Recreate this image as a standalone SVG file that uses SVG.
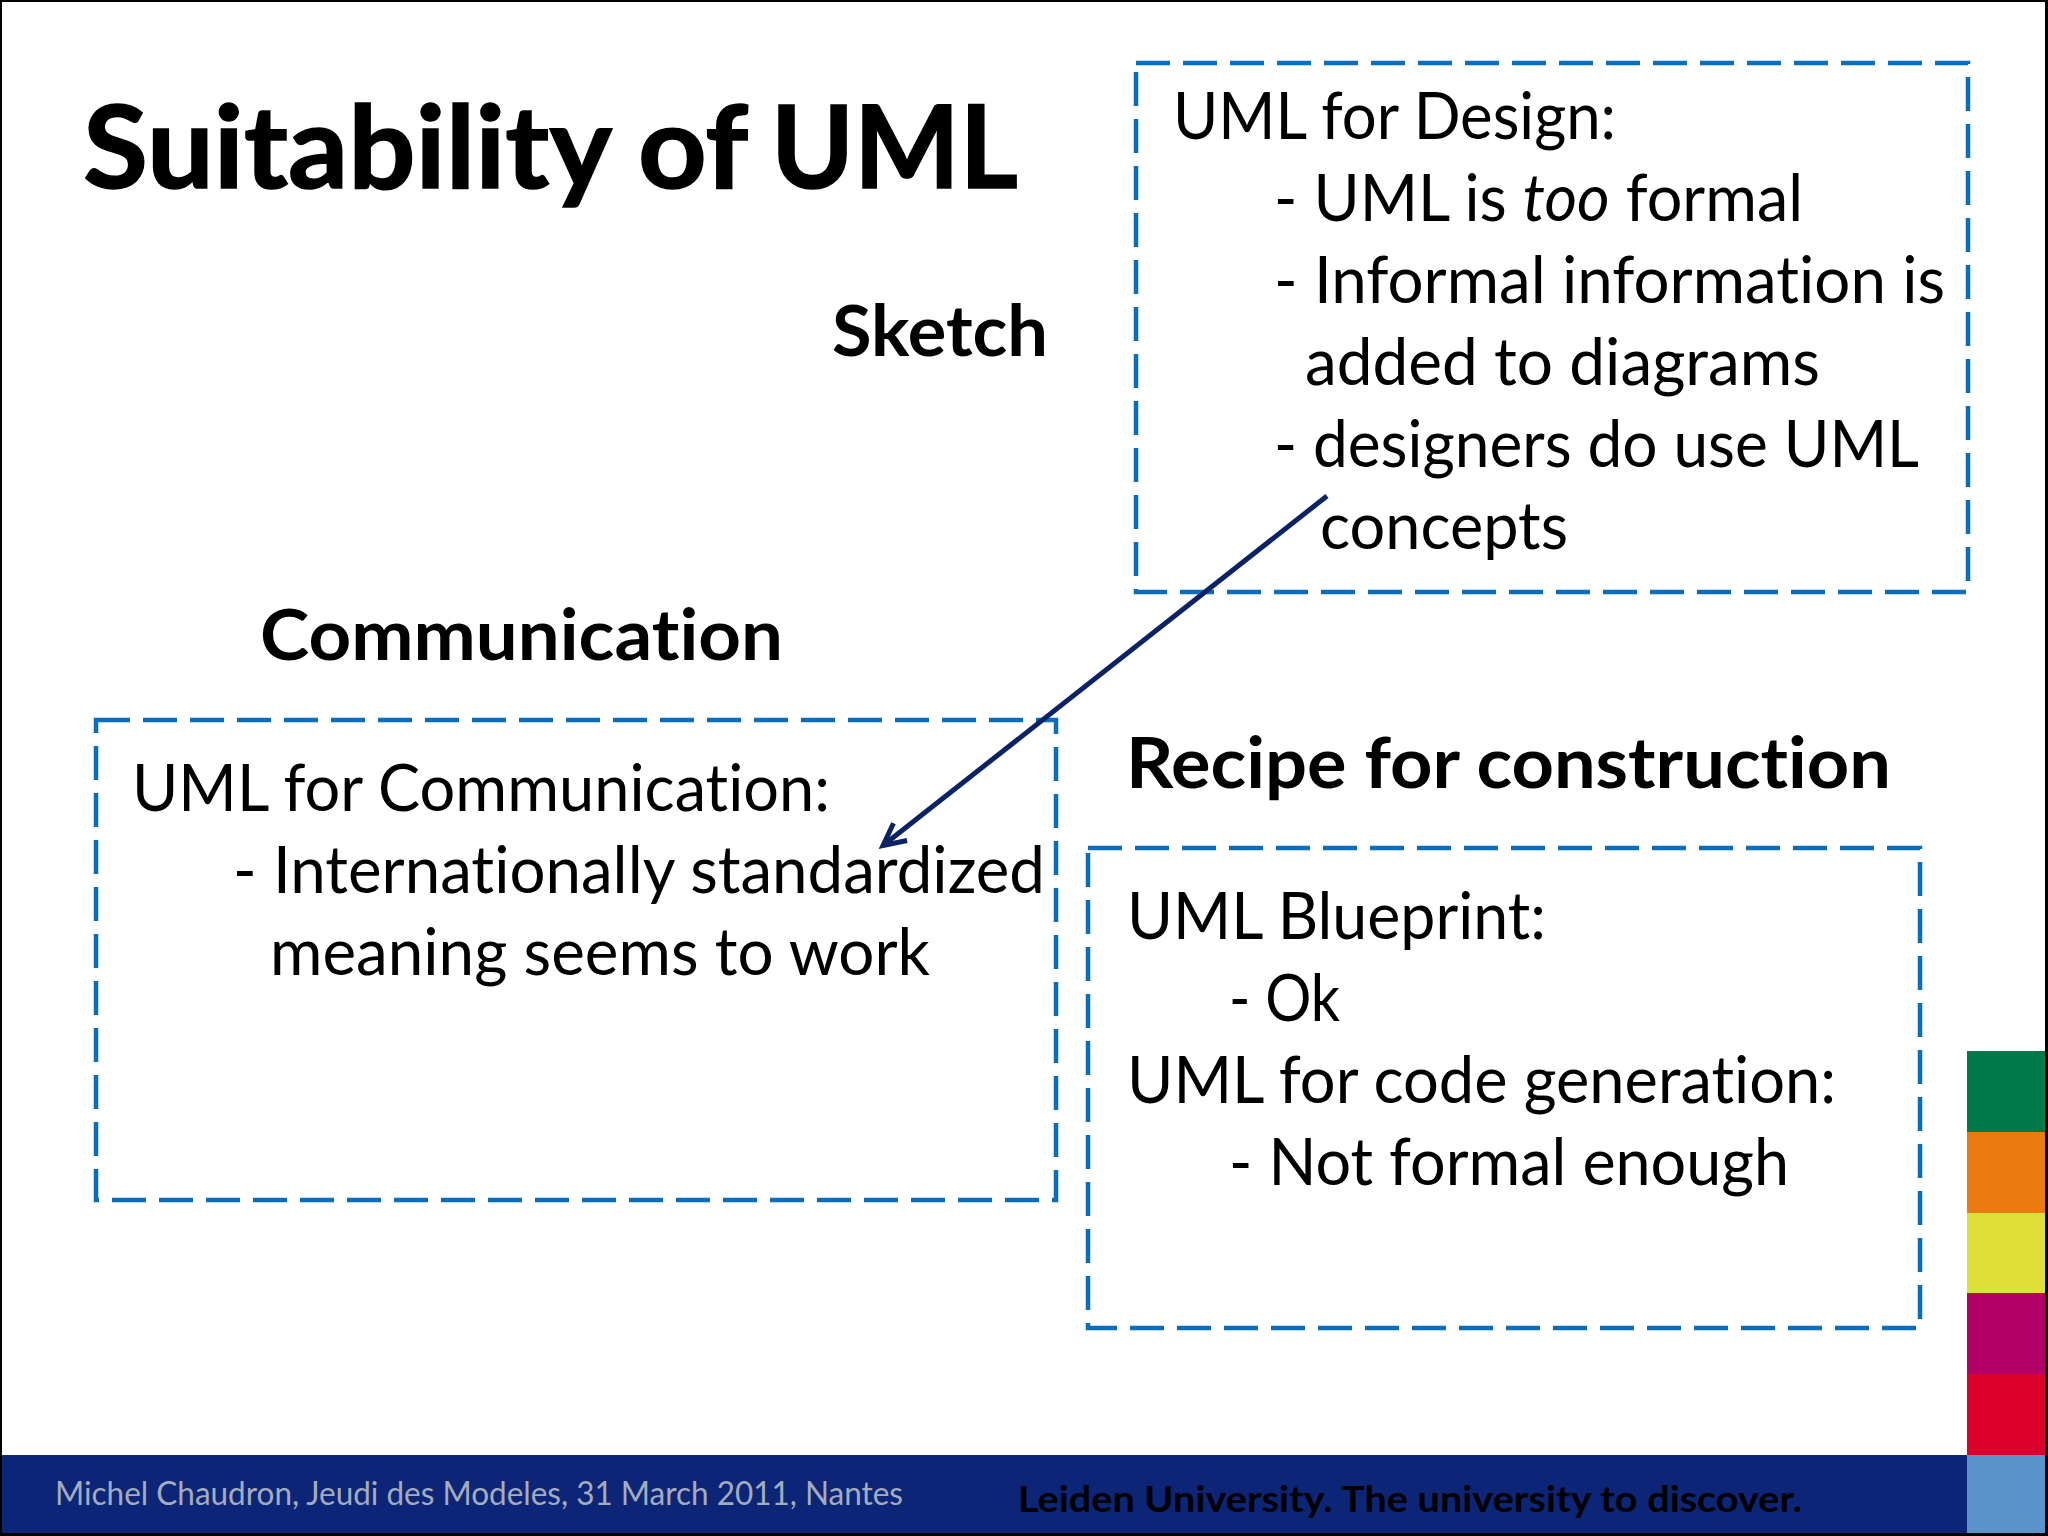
<svg xmlns="http://www.w3.org/2000/svg" width="2048" height="1536" viewBox="0 0 2048 1536">
<defs>
<style>
text{font-family:"Lato","Carlito","Open Sans",sans-serif;fill:#000;font-variant-ligatures:none;}
.b{font-size:65px;}
.h{font-size:70px;font-weight:700;}
.box{fill:none;stroke:#0a6ebd;stroke-width:4.5;stroke-dasharray:34 13;}
</style>
<marker id="arrow" markerUnits="userSpaceOnUse" markerWidth="40" markerHeight="40" refX="25" refY="15" orient="auto">
<path d="M3 4 L25 15 L3 26" fill="none" stroke="#0b2265" stroke-width="5"/>
</marker>
</defs>
<rect x="0" y="0" width="2048" height="1536" fill="#000"/>
<rect x="2" y="2" width="2043" height="1531" fill="#fff"/>
<g id="footer">
<rect x="2" y="1455" width="1965" height="78" fill="#0c2577"/>
<rect x="1967" y="1051" width="78" height="81" fill="#007a4b"/>
<rect x="1967" y="1132" width="78" height="81" fill="#ea7b10"/>
<rect x="1967" y="1213" width="78" height="80" fill="#dfdf38"/>
<rect x="1967" y="1293" width="78" height="81" fill="#b30066"/>
<rect x="1967" y="1374" width="78" height="81" fill="#dc002d"/>
<rect x="1967" y="1455" width="78" height="78" fill="#5a93c9"/>
<text x="55" y="1505" font-size="32" style="fill:#a3acbd" textLength="848" lengthAdjust="spacingAndGlyphs">Michel Chaudron, Jeudi des Modeles, 31 March 2011, Nantes</text>
<text x="1018" y="1512" font-size="37" font-weight="700" textLength="784" lengthAdjust="spacingAndGlyphs">Leiden University. The university to discover.</text>
</g>
<g id="title"><text y="188" font-size="114" font-weight="700" stroke="#000" stroke-width="1.5"><tspan x="83" textLength="526" lengthAdjust="spacingAndGlyphs">Suitability</tspan> <tspan x="638" textLength="108" lengthAdjust="spacingAndGlyphs">of</tspan> <tspan x="771" textLength="247" lengthAdjust="spacingAndGlyphs">UML</tspan></text></g>
<g id="label-sketch"><text class="h" x="832" y="356" textLength="216" lengthAdjust="spacingAndGlyphs">Sketch</text></g>
<g id="label-communication"><text class="h" x="260" y="660" textLength="523" lengthAdjust="spacingAndGlyphs">Communication</text></g>
<g id="label-recipe"><text class="h" x="1126" y="788" textLength="765" lengthAdjust="spacingAndGlyphs">Recipe for construction</text></g>
<g id="box-design">
<rect class="box" x="1136" y="63" width="832" height="529"/>
<text class="b" x="1173" y="139" textLength="443" lengthAdjust="spacingAndGlyphs">UML for Design:</text>
<text class="b" x="1274" y="221" textLength="529" lengthAdjust="spacingAndGlyphs">- UML is <tspan font-style="italic">too</tspan> formal</text>
<text class="b" x="1274" y="303" textLength="671" lengthAdjust="spacingAndGlyphs">- Informal information is</text>
<text class="b" x="1305" y="385" textLength="515" lengthAdjust="spacingAndGlyphs">added to diagrams</text>
<text class="b" x="1274" y="467" textLength="645" lengthAdjust="spacingAndGlyphs">- designers do use UML</text>
<text class="b" x="1320" y="549" textLength="248" lengthAdjust="spacingAndGlyphs">concepts</text>
</g>
<g id="box-communication">
<rect class="box" x="96" y="720" width="960" height="480"/>
<text class="b" x="132" y="811" textLength="698" lengthAdjust="spacingAndGlyphs">UML for Communication:</text>
<text class="b" x="233" y="893" textLength="812" lengthAdjust="spacingAndGlyphs">- Internationally standardized</text>
<text class="b" x="270" y="975" textLength="660" lengthAdjust="spacingAndGlyphs">meaning seems to work</text>
</g>
<g id="box-recipe">
<rect class="box" x="1088" y="848" width="832" height="480"/>
<text class="b" x="1127" y="939" textLength="419" lengthAdjust="spacingAndGlyphs">UML Blueprint:</text>
<text class="b" x="1229" y="1021" textLength="111" lengthAdjust="spacingAndGlyphs">- Ok</text>
<text class="b" x="1127" y="1103" textLength="709" lengthAdjust="spacingAndGlyphs">UML for code generation:</text>
<text class="b" x="1229" y="1185" textLength="560" lengthAdjust="spacingAndGlyphs">- Not formal enough</text>
</g>
<g id="connectors">
<line x1="1327" y1="496" x2="883" y2="845.5" stroke="#0b2265" stroke-width="5" marker-end="url(#arrow)"/>
</g>
</svg>
